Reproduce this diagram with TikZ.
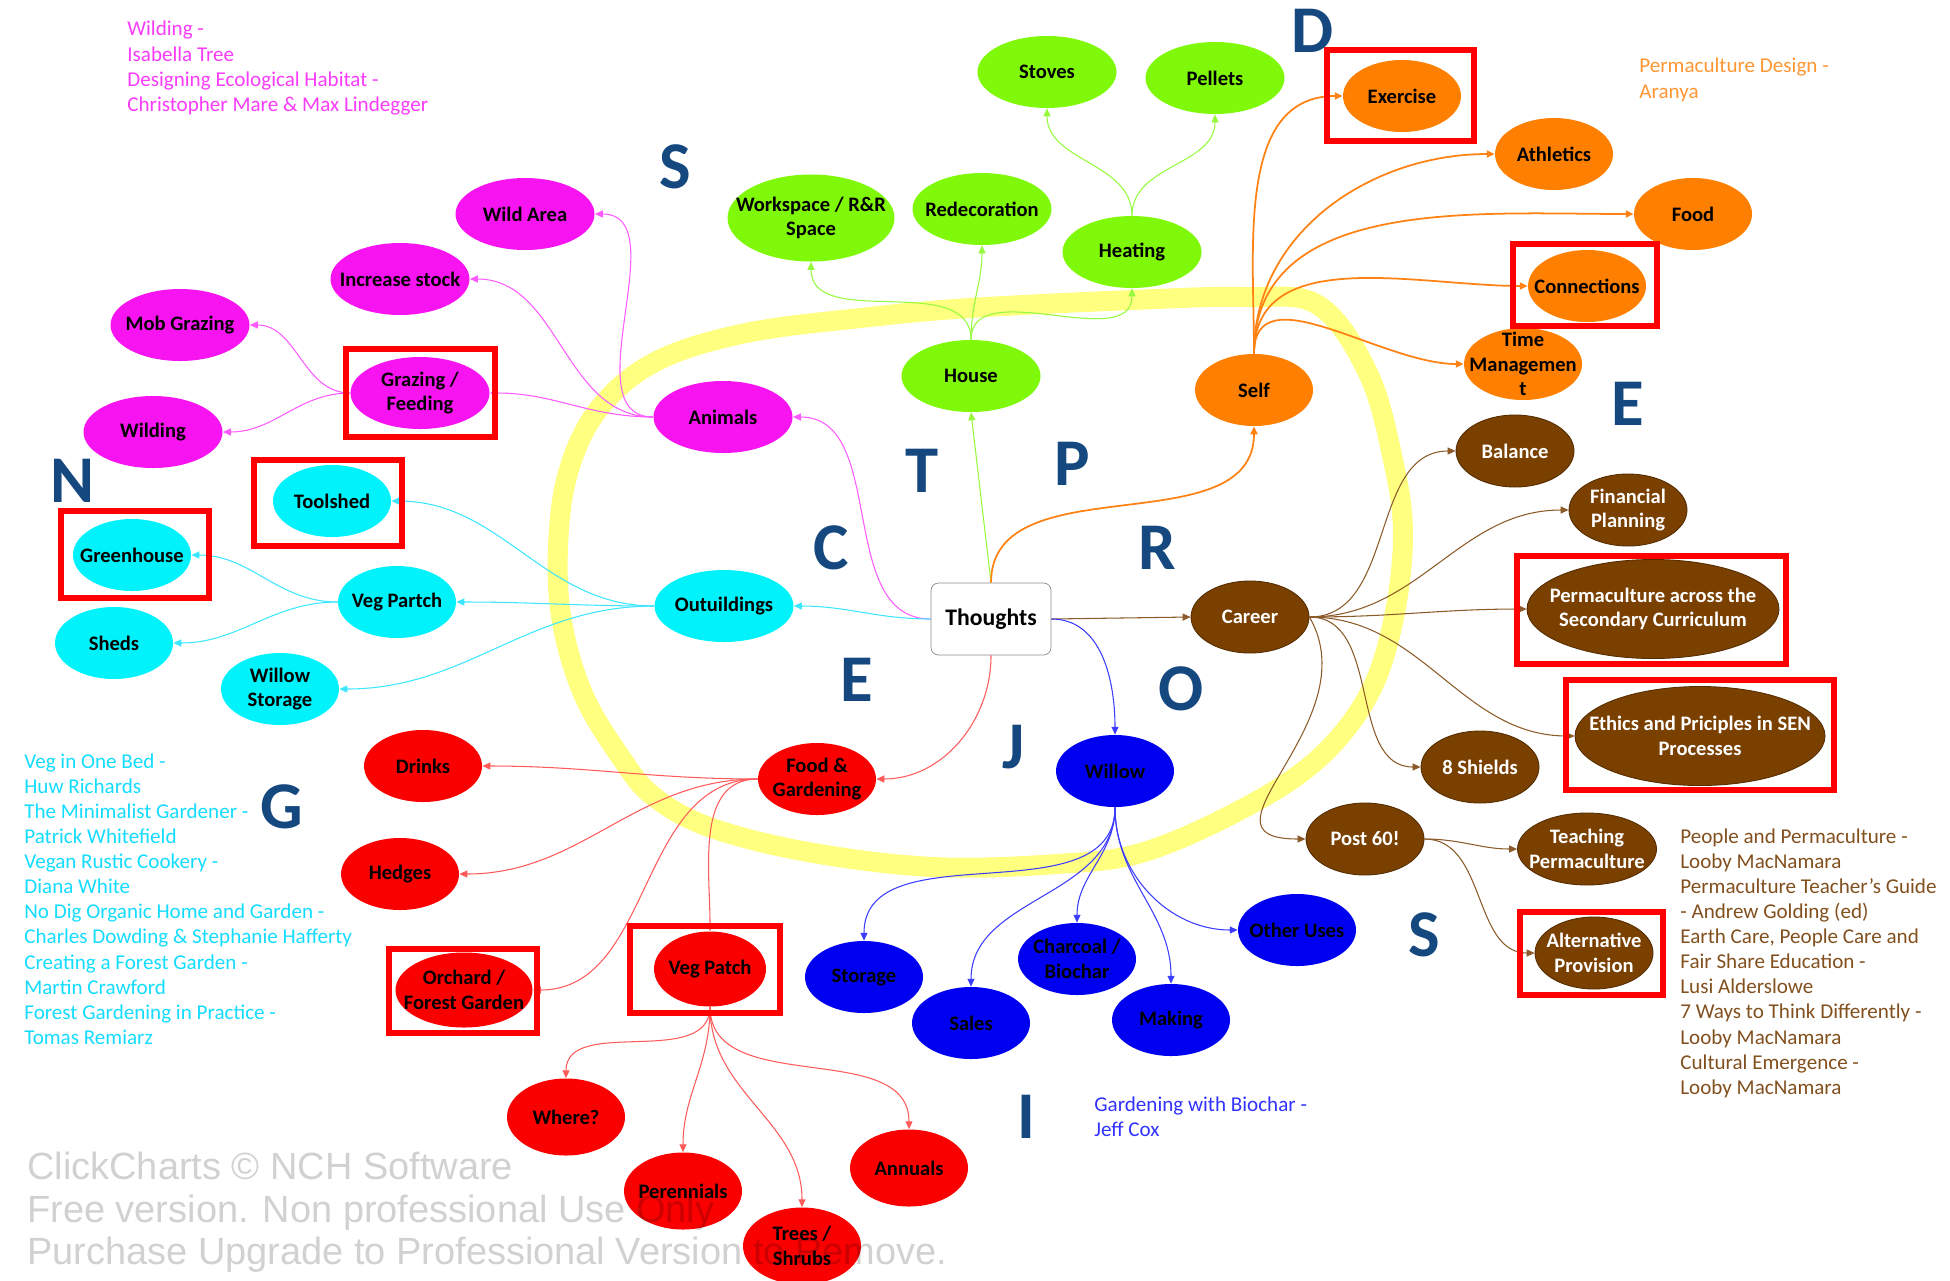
\documentclass[tikz,border=0pt]{standalone}
\usepackage{fontspec}
\setmainfont{Carlito}
\newfontfamily\wmfont{Liberation Sans}
\usetikzlibrary{shapes.geometric,arrows.meta}

% node fills
\definecolor{cmag}{RGB}{248,20,240}
\definecolor{ccyan}{RGB}{0,242,250}
\definecolor{cgreen}{RGB}{128,248,10}
\definecolor{corange}{RGB}{255,128,0}
\definecolor{cbrown}{RGB}{122,64,0}
\definecolor{cred}{RGB}{250,0,0}
\definecolor{cblue}{RGB}{0,0,240}
% connectors
\definecolor{lmag}{RGB}{255,90,255}
\definecolor{lcyan}{RGB}{60,230,255}
\definecolor{lgreen}{RGB}{150,250,60}
\definecolor{lorange}{RGB}{255,130,20}
\definecolor{lbrown}{RGB}{140,90,40}
\definecolor{lred}{RGB}{255,90,90}
\definecolor{lblue}{RGB}{60,60,255}
% notes and letters
\definecolor{nmag}{RGB}{250,60,250}
\definecolor{ncyan}{RGB}{20,220,255}
\definecolor{norange}{RGB}{255,150,50}
\definecolor{nbrown}{RGB}{130,80,30}
\definecolor{nblue}{RGB}{50,50,255}
\definecolor{letblue}{RGB}{22,72,128}
\definecolor{hilite}{RGB}{255,255,128}

\newcommand\bubfont{\fontsize{11.7}{14}\selectfont\bfseries}
\newcommand\notefont{\fontsize{12}{14.3}\selectfont}
\newcommand\letfont{\fontsize{38}{40}\selectfont\bfseries}

\begin{document}
\begin{tikzpicture}[x=0.2mm,y=0.2mm,
  bub/.style={ellipse,minimum width=23.6mm,minimum height=14.4mm,inner sep=0pt},
  wide/.style={minimum width=27.8mm},
  magb/.style={bub,fill=cmag},
  cyab/.style={bub,fill=ccyan},
  greb/.style={bub,fill=cgreen},
  orab/.style={bub,fill=corange},
  brob/.style={bub,fill=cbrown,draw=cbrown!70!black,line width=0.5pt},
  redb/.style={bub,fill=cred},
  blub/.style={bub,fill=cblue},
  lbl/.style={font=\bubfont,align=center,text=black},
  lblw/.style={lbl,text=white},
  thought/.style={rectangle,rounded corners=1.5mm,draw=black!45,fill=white,
    minimum width=24mm,minimum height=14.4mm,font=\fontsize{13.5}{15}\selectfont\bfseries},
  tip/.style={-{Triangle[length=4.5pt,width=4pt]}},
  emag/.style={tip,draw=lmag,line width=0.6pt},
  ecya/.style={tip,draw=lcyan,line width=0.6pt},
  egre/.style={tip,draw=lgreen,line width=0.6pt},
  eora/.style={tip,draw=lorange,line width=1pt},
  ebro/.style={tip,draw=lbrown,line width=0.6pt},
  ered/.style={tip,draw=lred,line width=0.6pt},
  eblu/.style={tip,draw=lblue,line width=0.6pt},
  hibox/.style={draw=red,line width=3.4pt},
  bigl/.style={font=\letfont,text=letblue,inner sep=0pt},
  note/.style={anchor=north west,align=left,inner sep=0pt,font=\notefont}]

\useasboundingbox (0,0) rectangle (1950,-1280);

% yellow loop round the centre
\draw[hilite,line width=4mm] plot[smooth cycle,tension=0.6] coordinates {
  (870,-317) (970,-308) (1132,-300) (1244,-297) (1318,-305) (1368,-373)
  (1393,-460) (1403,-535) (1393,-622) (1368,-696) (1318,-759) (1244,-808)
  (1144,-852) (1057,-864) (933,-867) (808,-852) (709,-827) (653,-796)
  (622,-759) (584,-696) (562,-622) (558,-547) (568,-473) (598,-410)
  (655,-362) (746,-333)};

% centre
\node[thought] (th) at (991,-619) {Thoughts};

% animals
\node[magb,wide,label={[lbl]center:Wild Area}] (wild) at (525,-214) {};
\node[magb,wide,label={[lbl]center:Increase stock}] (incr) at (400,-279) {};
\node[magb,wide,label={[lbl]center:Mob Grazing}] (mob) at (180,-325) {};
\node[magb,wide,label={[lbl]center:{Grazing /\\Feeding}}] (graz) at (420,-393) {};
\node[magb,wide,label={[lbl]center:Wilding}] (wildg) at (153,-432) {};
\node[magb,wide,label={[lbl]center:Animals}] (anim) at (723,-417) {};

% outbuildings
\node[cyab,label={[lbl]center:Toolshed}] (tool) at (332,-501) {};
\node[cyab,label={[lbl]center:Greenhouse}] (green) at (132,-555) {};
\node[cyab,label={[lbl]center:Veg Partch}] (vegp) at (397,-602) {};
\node[cyab,label={[lbl]center:Sheds}] (sheds) at (114,-643) {};
\node[cyab,label={[lbl]center:{Willow\\Storage}}] (wstor) at (280,-689) {};
\node[cyab,wide,label={[lbl]center:Outuildings}] (outb) at (724,-606) {};

% house
\node[greb,wide,label={[lbl]center:Stoves}] (stove) at (1047,-72) {};
\node[greb,wide,label={[lbl]center:Pellets}] (pell) at (1215,-78) {};
\node[greb,minimum width=33.4mm,minimum height=17.4mm,
  label={[lbl]center:{Workspace / R\&R\\Space}}] (work) at (811,-218) {};
\node[greb,wide,label={[lbl]center:Redecoration}] (redec) at (982,-209) {};
\node[greb,wide,label={[lbl]center:Heating}] (heat) at (1132,-252) {};
\node[greb,wide,label={[lbl]center:House}] (house) at (971,-376) {};

% self
\node[orab,label={[lbl]center:Exercise}] (exer) at (1402,-96) {};
\node[orab,label={[lbl]center:Athletics}] (athl) at (1554,-154) {};
\node[orab,label={[lbl]center:Food}] (foodo) at (1693,-214) {};
\node[orab,label={[lbl]center:Connections}] (conn) at (1587,-286) {};
\node[orab,label={[lbl]center:{Time\\Managemen\\t}}] (time) at (1523,-364) {};
\node[orab,label={[lbl]center:Self}] (self) at (1254,-390) {};

% career
\node[brob,label={[lblw]center:Balance}] (bal) at (1515,-451) {};
\node[brob,label={[lblw]center:{Financial\\Planning}}] (fin) at (1628,-510) {};
\node[brob,minimum width=50.4mm,minimum height=19.8mm,
  label={[lblw]center:{Permaculture across the\\Secondary Curriculum}}] (pacr) at (1653,-609) {};
\node[brob,minimum width=50mm,minimum height=19.8mm,
  label={[lblw]center:{Ethics and Priciples in SEN\\Processes}}] (eth) at (1700,-736) {};
\node[brob,label={[lblw]center:8 Shields}] (shld) at (1480,-767) {};
\node[brob,label={[lblw]center:Post 60!}] (post) at (1365,-839) {};
\node[brob,wide,label={[lblw]center:{Teaching\\Permaculture}}] (teach) at (1587,-849) {};
\node[brob,label={[lblw]center:{Alternative\\Provision}}] (alt) at (1594,-953) {};
\node[brob,label={[lblw]center:Career}] (car) at (1250,-617) {};

% food and gardening
\node[redb,label={[lbl]center:Drinks}] (drk) at (423,-766) {};
\node[redb,label={[lbl]center:{Food \&\\Gardening}}] (fg) at (817,-779) {};
\node[redb,label={[lbl]center:Hedges}] (hdg) at (400,-874) {};
\node[redb,minimum width=27.4mm,minimum height=15mm,
  label={[lbl]center:{Orchard /\\Forest Garden}}] (orch) at (464,-990) {};
\node[redb,minimum width=22.4mm,minimum height=15mm,
  label={[lbl]center:Veg Patch}] (vpat) at (710,-969) {};
\node[redb,minimum height=15.4mm,label={[lbl]center:Where?}] (where) at (566,-1117) {};
\node[redb,minimum height=15.4mm,label={[lbl]center:Perennials}] (per) at (683,-1191) {};
\node[redb,minimum height=15.4mm,label={[lbl]center:{Trees /\\Shrubs}}] (tree) at (802,-1246) {};
\node[redb,minimum height=15.4mm,label={[lbl]center:Annuals}] (ann) at (909,-1168) {};

% willow
\node[blub,label={[lbl]center:Willow}] (wil) at (1115,-771) {};
\node[blub,label={[lbl]center:Storage}] (stor) at (864,-977) {};
\node[blub,label={[lbl]center:Sales}] (sale) at (971,-1023) {};
\node[blub,label={[lbl]center:{Charcoal /\\Biochar}}] (char) at (1077,-959) {};
\node[blub,label={[lbl]center:Making}] (mak) at (1171,-1020) {};
\node[blub,label={[lbl]center:Other Uses}] (oth) at (1297,-930) {};

% connectors from the centre
\draw[emag] (th.west) to[out=180,in=0] (anim.east);
\draw[ecya] (th.west) to[out=180,in=0] (outb.east);
\draw[egre] (th.north) -- (house.south);
\draw[eora] (th.north) to[out=90,in=-90] (self.south);
\draw[ebro] (th.east) -- (car.west);
\draw[eblu] (th.east) to[out=0,in=90] (wil.north);
\draw[ered] (th.south) to[out=-90,in=0] (fg.east);

% branches
\foreach \t in {wild,incr,graz} \draw[emag] (anim.west) to[out=180,in=0] (\t.east);
\foreach \t in {mob,wildg} \draw[emag] (graz.west) to[out=180,in=0] (\t.east);
\foreach \t in {tool,vegp,wstor} \draw[ecya] (outb.west) to[out=180,in=0] (\t.east);
\foreach \t in {green,sheds} \draw[ecya] (vegp.west) to[out=180,in=0] (\t.east);
\foreach \t in {work,redec,heat} \draw[egre] (house.north) to[out=90,in=-90] (\t.south);
\foreach \t in {stove,pell} \draw[egre] (heat.north) to[out=90,in=-90] (\t.south);
\foreach \t in {exer,athl,foodo,conn,time} \draw[eora] (self.north) to[out=90,in=180] (\t.west);
\foreach \t in {bal,fin,pacr,eth,shld} \draw[ebro] (car.east) to[out=0,in=180] (\t.west);
\draw[ebro] (car.east) to[out=-60,in=180,looseness=1.4] (post.west);
\foreach \t in {teach,alt} \draw[ebro] (post.east) to[out=0,in=180] (\t.west);
\foreach \t in {drk,hdg,orch} \draw[ered] (fg.west) to[out=180,in=0] (\t.east);
\draw[ered] (fg.west) to[out=180,in=90] (vpat.north);
\foreach \t in {where,per,tree,ann} \draw[ered] (vpat.south) to[out=-90,in=90] (\t.north);
\foreach \t in {stor,sale,char,mak} \draw[eblu] (wil.south) to[out=-90,in=90] (\t.north);
\draw[eblu] (wil.south) to[out=-90,in=180] (oth.west);

% red highlight boxes
\draw[hibox] (1327,-50) rectangle (1474,-141);
\draw[hibox] (1513,-244) rectangle (1657,-326);
\draw[hibox] (346,-349) rectangle (495,-437);
\draw[hibox] (254,-460) rectangle (402,-546);
\draw[hibox] (61,-511) rectangle (209,-598);
\draw[hibox] (1517,-556) rectangle (1786,-664);
\draw[hibox] (1566,-680) rectangle (1834,-790);
\draw[hibox] (1520,-912) rectangle (1663,-995);
\draw[hibox] (389,-949) rectangle (537,-1033);
\draw[hibox] (630,-926) rectangle (780,-1013);

% big letters
\node[bigl] (ls1) at (675,-167) {S};
\node[bigl] (ld) at (1313,-31) {D};
\node[bigl] (lt) at (922,-471) {T};
\node[bigl] (lp) at (1072,-464) {P};
\node[bigl] (lc) at (831,-548) {C};
\node[bigl] (lr) at (1157,-548) {R};
\node[bigl] (le1) at (857,-680) {E};
\node[bigl] (lo) at (1181,-689) {O};
\node[bigl] (lj) at (1014,-747) {J};
\node[bigl] (lg) at (282,-807) {G};
\node[bigl] (ln) at (72,-481) {N};
\node[bigl] (le2) at (1628,-404) {E};
\node[bigl] (ls2) at (1424,-935) {S};
\node[bigl] (li) at (1026,-1117) {I};

% reading lists
\node[note,text=nmag] (rmag) at (127,-21) {Wilding -\\Isabella Tree\\Designing Ecological Habitat -\\Christopher Mare \& Max Lindegger};
\node[note,text=norange] (rora) at (1639,-58) {Permaculture Design -\\Aranya};
\node[note,text=ncyan] (rcya) at (24,-753) {Veg in One Bed -\\Huw Richards\\The Minimalist Gardener -\\Patrick Whitefield\\Vegan Rustic Cookery -\\Diana White\\No Dig Organic Home and Garden -\\Charles Dowding \& Stephanie Hafferty\\Creating a Forest Garden -\\Martin Crawford\\Forest Gardening in Practice -\\Tomas Remiarz};
\node[note,text=nblue] (rblu) at (1094,-1096) {Gardening with Biochar -\\Jeff Cox};
\node[note,text=nbrown] (rbro) at (1680,-828) {People and Permaculture -\\Looby MacNamara\\Permaculture Teacher's Guide\\- Andrew Golding (ed)\\Earth Care, People Care and\\Fair Share Education -\\Lusi Alderslowe\\7 Ways to Think Differently -\\Looby MacNamara\\Cultural Emergence -\\Looby MacNamara};

% watermark
\node[note,font=\wmfont\fontsize{21.6}{24}\selectfont,text=black,text opacity=0.18] (wm) at (27,-1152)
  {ClickCharts © NCH Software\\Free version. Non professional Use Only\\Purchase Upgrade to Professional Version to Remove.};
\end{tikzpicture}
\end{document}
